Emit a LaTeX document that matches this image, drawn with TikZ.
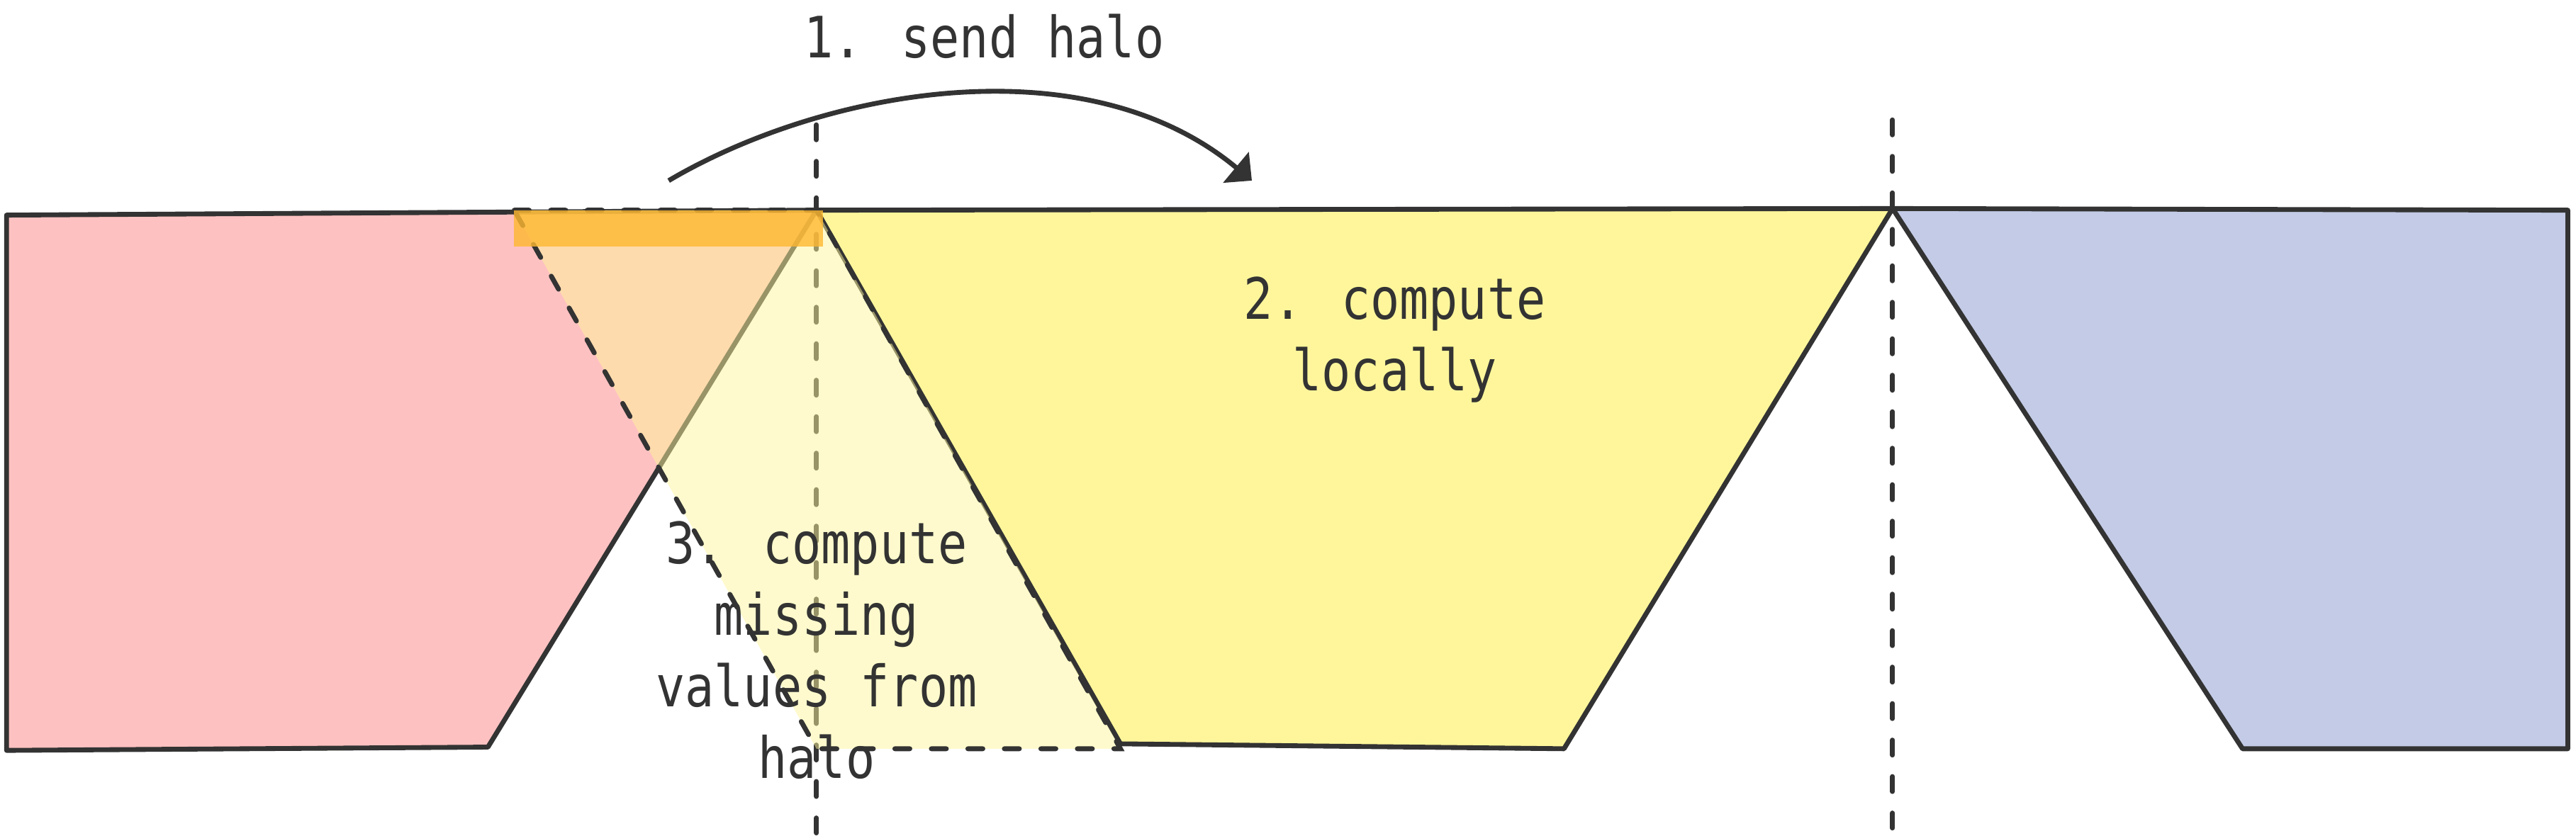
\documentclass[tikz,border=0pt]{standalone}
\usepackage{fontspec}
\newfontfamily\monofont[FakeStretch=0.85]{DejaVu Sans Mono}
\usetikzlibrary{arrows.meta}

\definecolor{edge}{RGB}{51,51,51}
\definecolor{redpart}{RGB}{254,193,193}
\definecolor{yellowpart}{RGB}{255,246,155}
\definecolor{bluepart}{RGB}{195,203,230}
\definecolor{halobar}{RGB}{255,184,48}

\tikzset{
  part/.style={draw=edge,line width=2.1pt,line join=round},
  cut/.style={draw=edge,line width=2.1pt,dash pattern=on 6.5pt off 9.3pt,line cap=round},
  txt/.style={font=\monofont\fontsize{24.7}{31}\selectfont,text=edge,align=center},
}

\begin{document}
\begin{tikzpicture}[x=0.025cm,y=-0.025cm]
      \useasboundingbox (0,0) rectangle (1568,509);

      \coordinate (a) at (497,128);
      \coordinate (b) at (1152,127);
      \coordinate (a0) at (497,76);
      \coordinate (a1) at (497,509);
      \coordinate (b0) at (1152,73);
      \coordinate (b1) at (1152,509);
      \coordinate (s) at (407,110);
      \coordinate (t) at (762,110);

      %parts
      \draw[part,fill=redpart] (4,131) -- (a) -- (297,455) -- (4,457) -- cycle;
      \draw[part,fill=yellowpart] (a) -- (b) -- (952,456) -- (682,453) -- cycle;
      \draw[part,fill=bluepart] (b) -- (1563,128) -- (1563,456) -- (1365,456) -- cycle;

      %cuts
      \draw[cut] (a0) -- (a1);
      \draw[cut] (b0) -- (b1);

      %halo
      \draw[cut,fill=yellowpart,fill opacity=0.5] (313,128) -- (a) -- (682,456) -- (497,456) -- cycle;
      \fill[halobar,opacity=0.8] (313,128) rectangle (501,150);

      %s>t
      \draw[part,-{Triangle[length=9pt,width=17pt]}] (s) .. controls (500,55) and (660,25) .. (t);

      \node[txt] (send) at (599,22) {1. send halo};
      \node[txt] (local) at (849,207) {2. compute\\locally};
      \node[txt] (missing) at (497,396) {3. compute\\missing\\values from\\halo};
\end{tikzpicture}
\end{document}
